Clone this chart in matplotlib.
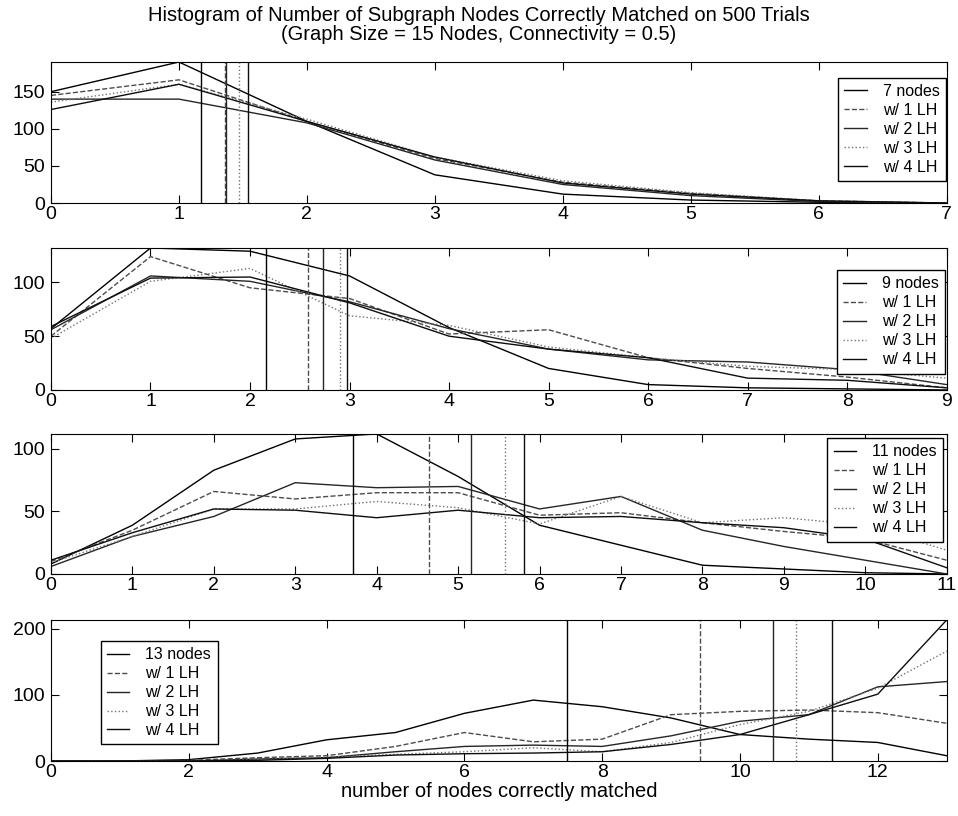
import matplotlib.pyplot as plt
import numpy as np

plt.rcParams['font.family'] = ['Liberation Sans', 'DejaVu Sans']

labels = ['nodes', 'w/ 1 LH', 'w/ 2 LH', 'w/ 3 LH', 'w/ 4 LH']

# 7 nodes subgraph (x = 0..7)
counts_7 = [
    [150, 190, 110, 38, 12, 4, 1, 0],
    [145, 166, 110, 60, 28, 13, 3, 0],
    [140, 140, 108, 58, 25, 10, 2, 0],
    [136, 160, 113, 62, 30, 14, 3, 0],
    [126, 160, 110, 62, 27, 12, 3, 0],
]
means_7 = [1.175, 1.36, 1.37, 1.468, 1.538]

# 9 nodes subgraph (x = 0..9)
counts_9 = [
    [57, 132, 129, 106, 58, 20, 5, 2, 1, 0],
    [50, 124, 95, 85, 52, 56, 30, 20, 12, 2],
    [56, 106, 101, 82, 57, 38, 28, 26, 19, 5],
    [48, 101, 113, 69, 60, 40, 30, 22, 19, 11],
    [59, 104, 105, 81, 50, 38, 30, 11, 9, 2],
]
means_9 = [2.16, 2.58, 2.73, 2.90, 2.97]

# 11 nodes subgraph (x = 0..11)
counts_11 = [
    [8, 39, 83, 108, 112, 78, 39, 23, 7, 4, 1, 0],
    [10, 35, 66, 60, 65, 65, 47, 49, 41, 34, 28, 11],
    [6, 30, 46, 73, 69, 70, 52, 62, 35, 22, 11, 0],
    [9, 30, 52, 52, 58, 53, 40, 62, 41, 45, 39, 19],
    [11, 33, 52, 51, 45, 51, 45, 46, 41, 37, 28, 5],
]
means_11 = [3.71, 4.64, 5.16, 5.57, 5.81]

# 13 nodes subgraph (x = 0..13)
counts_13 = [
    [0, 0, 2, 12, 32, 43, 72, 92, 82, 65, 40, 33, 28, 8],
    [0, 0, 1, 5, 8, 22, 43, 29, 33, 70, 75, 77, 73, 57],
    [0, 0, 0, 3, 5, 14, 22, 24, 22, 38, 60, 70, 112, 120],
    [0, 0, 0, 2, 6, 10, 14, 20, 14, 28, 55, 75, 110, 166],
    [0, 0, 0, 1, 4, 9, 11, 12, 14, 25, 40, 70, 101, 213],
]
means_13 = [7.49, 9.42, 10.48, 10.82, 11.34]

# (n, counts, means, yticks, xticks, legend anchor)
panels = [
    (7, counts_7, means_7, [0, 50, 100, 150], np.arange(0, 8), ('upper right', (0.999, 0.889))),
    (9, counts_9, means_9, [0, 50, 100], np.arange(0, 10), ('upper right', (0.998, 0.845))),
    (11, counts_11, means_11, [0, 50, 100], np.arange(0, 12), ('upper right', (0.996, 0.971))),
    (13, counts_13, means_13, [0, 100, 200], np.arange(0, 13, 2), ('upper left', (0.0555, 0.853))),
]

styles = ['-', '--', '-', ':', '-']
colors = ['black', '0.3', '0.15', '0.45', '0.05']

fig = plt.figure(figsize=(9.58, 8.16), dpi=100)
bottoms = [0.7512, 0.5221, 0.2966, 0.0674]
heights = [0.1728, 0.174, 0.1716, 0.1728]

for (n, counts, means, yt, xt, (loc, anchor)), b, h in zip(panels, bottoms, heights):
    ax = fig.add_axes([0.0532, b, 0.935, h])
    x = np.arange(n + 1)
    top = max(max(c) for c in counts)
    for i, c in enumerate(counts):
        name = f'{n} nodes' if i == 0 else labels[i]
        ax.plot(x, c, linestyle=styles[i], color=colors[i], lw=1.0, label=name)
    # mean of each histogram
    for i, m in enumerate(means):
        ax.plot([m, m], [0, top], linestyle=styles[i], color=colors[i], lw=1.0)
    ax.set_xlim(0, n)
    ax.set_ylim(0, top)
    ax.set_xticks(xt)
    ax.set_yticks(yt)
    ax.tick_params(direction='in', top=True, right=True, length=6, labelsize=14)
    ax.tick_params(axis='x', pad=2)
    ax.tick_params(axis='y', pad=4)
    leg = ax.legend(loc=loc, bbox_to_anchor=anchor, borderaxespad=0, fontsize=11.5,
                    handlelength=1.4, handletextpad=1.0, labelspacing=0.25, borderpad=0.4,
                    fancybox=False, edgecolor='black', framealpha=1)
    leg.get_frame().set_linewidth(1.0)
    if n == 13:
        ax.set_xlabel('number of nodes correctly matched', fontsize=14.5, labelpad=1)

fig.text(0.5, 0.993, 'Histogram of Number of Subgraph Nodes Correctly Matched on 500 Trials',
         ha='center', va='top', fontsize=14.5)
fig.text(0.5, 0.969, '(Graph Size = 15 Nodes, Connectivity = 0.5)',
         ha='center', va='top', fontsize=14.5)

fig.savefig('out.png', dpi=100)
